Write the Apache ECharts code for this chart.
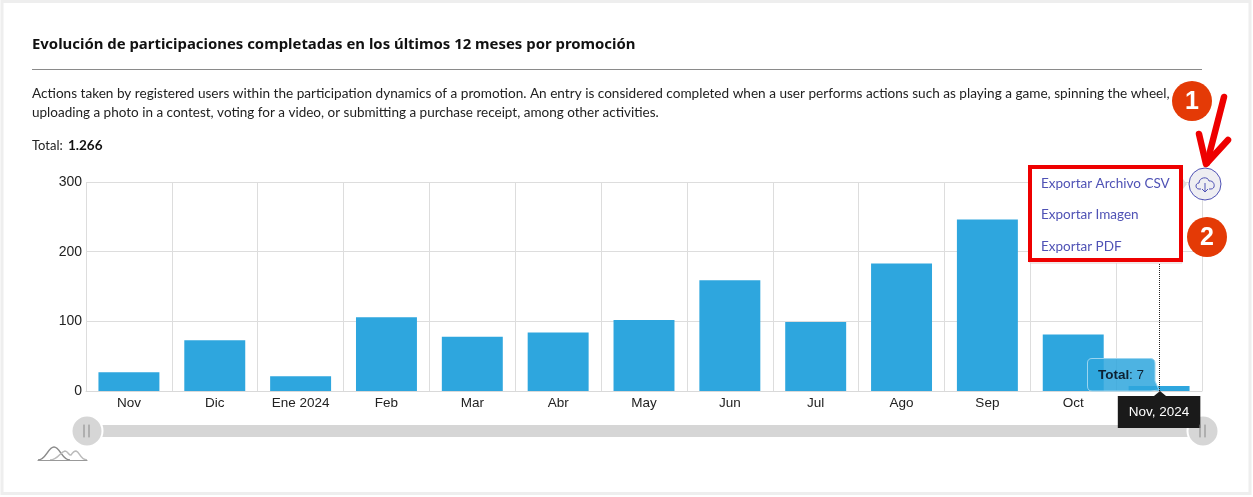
<!DOCTYPE html>
<html>
<head>
<meta charset="utf-8">
<title>Participaciones</title>
<script src="https://cdn.jsdelivr.net/npm/echarts@6/dist/echarts.min.js"></script>
<style>
  html, body { margin: 0; padding: 0; background: #fff; }
  #chart { width: 1253px; height: 497px; }
</style>
</head>
<body>
<div id="chart"></div>
<script>
// data
var categories = ['Nov', 'Dic', 'Ene 2024', 'Feb', 'Mar', 'Abr', 'May', 'Jun', 'Jul', 'Ago', 'Sep', 'Oct', 'Nov'];
var totals = [27, 73, 21, 106, 78, 84, 102, 159, 99, 183, 246, 81, 7];
var yTicks = [0, 100, 200, 300];

var titleText = 'Evolución de participaciones completadas en los últimos 12 meses por promoción';
var descLines = [
  'Actions taken by registered users within the participation dynamics of a promotion. An entry is considered completed when a user performs actions such as playing a game, spinning the wheel,',
  'uploading a photo in a contest, voting for a video, or submitting a purchase receipt, among other activities.'
];
var exportItems = ['Exportar Archivo CSV', 'Exportar Imagen', 'Exportar PDF'];

var bodyFont = 'Lato, "Noto Sans", sans-serif';
var titleFont = '"Noto Sans", Lato, sans-serif';
var axisFont = '"Liberation Sans", Arial, sans-serif';

// icon outlines, the graphic component has no plain path type
function addShape(name, pathData) {
  echarts.graphic.registerShape(name, echarts.graphic.extendPath(pathData, {}));
}
addShape('cloudIcon', 'M1201 189 H1199 C1195 189 1195 183 1199 183 C1199 177 1208 176 1209 181 C1215 180 1216 189 1211 189 H1209 M1205 183 V192 M1202 189 L1205 192 L1208 189');
addShape('tipBubble', 'M1092 358.5 H1150 Q1155 358.5 1155 363 V381 L1159 390 L1150 391 H1092 Q1087.5 391 1087.5 386 V363 Q1087.5 358.5 1092 358.5 Z');
addShape('brandBack', 'M38 460 C46 460 48 447 54 447 C60 447 62 460 70 460');
addShape('brandFront', 'M50 460 C58 460 60 452 65 451 C68 451 69 456 71 455 C73 452 74 451 76 451 C80 452 80 460 87 460');

var chart = echarts.init(document.getElementById('chart'));

function label(x, y, text, font, fill, extra) {
  return {
    type: 'text', z: 100, x: x, y: y,
    style: Object.assign({ text: text, font: font, fill: fill, verticalAlign: 'middle' }, extra || {})
  };
}
function line(pts, color, w, extra) {
  return {
    type: 'polyline', z: 100,
    shape: { points: pts },
    style: Object.assign({ stroke: color, lineWidth: w, fill: null, lineCap: 'round', lineJoin: 'round' }, extra || {})
  };
}

var graphics = [
  // page frame
  { type: 'rect', z: -1, silent: true, shape: { x: 2, y: 1.5, width: 1248, height: 492 },
    style: { fill: '#fff', stroke: '#eeeeee', lineWidth: 3 } },
  label(32, 45, titleText, 'bold 14.9px ' + titleFont, '#111'),
  { type: 'rect', z: 100, shape: { x: 32, y: 69, width: 1170, height: 1 }, style: { fill: '#8a8a8a' } },
  label(32, 94, descLines[0], '13.6px ' + bodyFont, '#222'),
  label(32, 113, descLines[1], '13.5px ' + bodyFont, '#222'),
  label(32, 146, 'Total: ', '13px ' + bodyFont, '#222'),
  label(68, 146, '1.266', 'bold 13.5px ' + bodyFont, '#111'),

  // export menu
  { type: 'rect', z: 99, shape: { x: 1030, y: 167, width: 152, height: 96 },
    style: { fill: '#fff', stroke: '#e6cccc', lineWidth: 1 } },
  { type: 'rect', z: 100, shape: { x: 1030, y: 167, width: 151, height: 93 },
    style: { fill: null, stroke: '#ee0000', lineWidth: 4 } },
  label(1041, 184, exportItems[0], '13.5px ' + bodyFont, '#4f52b5'),
  label(1041, 215, exportItems[1], '13.5px ' + bodyFont, '#4f52b5'),
  label(1041, 247, exportItems[2], '13.5px ' + bodyFont, '#4f52b5'),

  // download button
  { type: 'polygon', z: 100, shape: { points: [[1183, 179], [1187, 184], [1183, 189]] }, style: { fill: '#dddddd' } },
  { type: 'circle', z: 100, shape: { cx: 1205, cy: 184, r: 16 }, style: { fill: '#eeeef2', stroke: '#4f52b5', lineWidth: 1 } },
  { type: 'cloudIcon', z: 100, style: { fill: null, stroke: '#4f52b5', lineWidth: 1 } },

  // numbered callouts
  { type: 'circle', z: 101, shape: { cx: 1192, cy: 101, r: 20 }, style: { fill: '#e43a06' } },
  Object.assign(label(1192, 102, '1', 'bold 25px ' + axisFont, '#fff', { align: 'center' }), { z: 102 }),
  { type: 'circle', z: 101, shape: { cx: 1207, cy: 237, r: 20 }, style: { fill: '#e43a06' } },
  Object.assign(label(1207, 238, '2', 'bold 25px ' + axisFont, '#fff', { align: 'center' }), { z: 102 }),
  line([[1224, 97], [1207, 163]], '#ee0000', 6.5),
  line([[1199, 134], [1206, 164], [1228, 140]], '#ee0000', 6.5),

  // tooltip bubble
  { type: 'tipBubble', z: 90, style: { fill: 'rgba(46,166,221,0.85)', stroke: '#9bd5f0', lineWidth: 1 } },
  label(1098, 375, 'Total', 'bold 13.5px ' + axisFont, '#0d2233'),
  label(1129, 375, ': 7', '13.5px ' + axisFont, '#0d2233'),
  { type: 'polygon', z: 90, shape: { points: [[1154, 396], [1160, 391], [1166, 396]] }, style: { fill: '#1a1a1a' } },

  // slider grips
  line([[84, 425], [84, 437]], '#888', 1),
  line([[89, 425], [89, 437]], '#888', 1),
  line([[1200, 425], [1200, 437]], '#888', 1),
  line([[1205, 425], [1205, 437]], '#888', 1),

  // small brand mark
  { type: 'brandBack', z: 100, style: { fill: null, stroke: '#8a8a8a', lineWidth: 1.5 } },
  { type: 'brandFront', z: 100, style: { fill: null, stroke: '#bbbbbb', lineWidth: 1.5 } },
  line([[38, 460.5], [87, 460.5]], '#999', 1.2)
];

chart.setOption({
  animation: false,
  grid: { left: 86, right: 51, top: 182, height: 209 },
  xAxis: {
    type: 'category',
    data: categories,
    axisTick: { show: false },
    axisLine: { lineStyle: { color: '#d9d9d9' } },
    splitLine: { show: true, lineStyle: { color: '#dddddd' } },
    axisLabel: { color: '#222', fontFamily: axisFont, fontSize: 13.5, margin: 5, hideOverlap: false, interval: 0 },
    axisPointer: {
      show: true, type: 'line', value: categories.length - 1, status: 'show', snap: false,
      lineStyle: { color: '#222', type: 'dotted', width: 1 },
      label: {
        show: true, formatter: 'Nov, 2024', backgroundColor: '#1a1a1a', color: '#fff',
        fontFamily: axisFont, fontSize: 13.5, padding: [9, 11, 9, 11], margin: 5, borderRadius: 0
      }
    }
  },
  yAxis: {
    type: 'value',
    min: yTicks[0],
    max: yTicks[yTicks.length - 1],
    interval: 100,
    axisLine: { show: false },
    axisTick: { show: false },
    splitLine: { lineStyle: { color: '#dddddd' } },
    axisLabel: { color: '#222', fontFamily: axisFont, fontSize: 14, margin: 4, padding: [2, 0, 0, 0] }
  },
  dataZoom: [{
    type: 'slider',
    xAxisIndex: 0,
    left: 84, width: 1118, top: 425, height: 12,
    start: 0, end: 100,
    showDetail: false,
    showDataShadow: false,
    brushSelect: false,
    moveHandleSize: 0,
    backgroundColor: 'transparent',
    borderColor: 'transparent',
    fillerColor: '#d6d6d6',
    handleIcon: 'circle',
    handleSize: 31,
    handleStyle: { color: '#d6d6d6', borderColor: '#fff', borderWidth: 2 }
  }],
  series: [{
    type: 'bar',
    name: 'Total',
    data: totals,
    barWidth: '71%',
    itemStyle: { color: '#2ea6de' }
  }],
  graphic: graphics
});
</script>
</body>
</html>
